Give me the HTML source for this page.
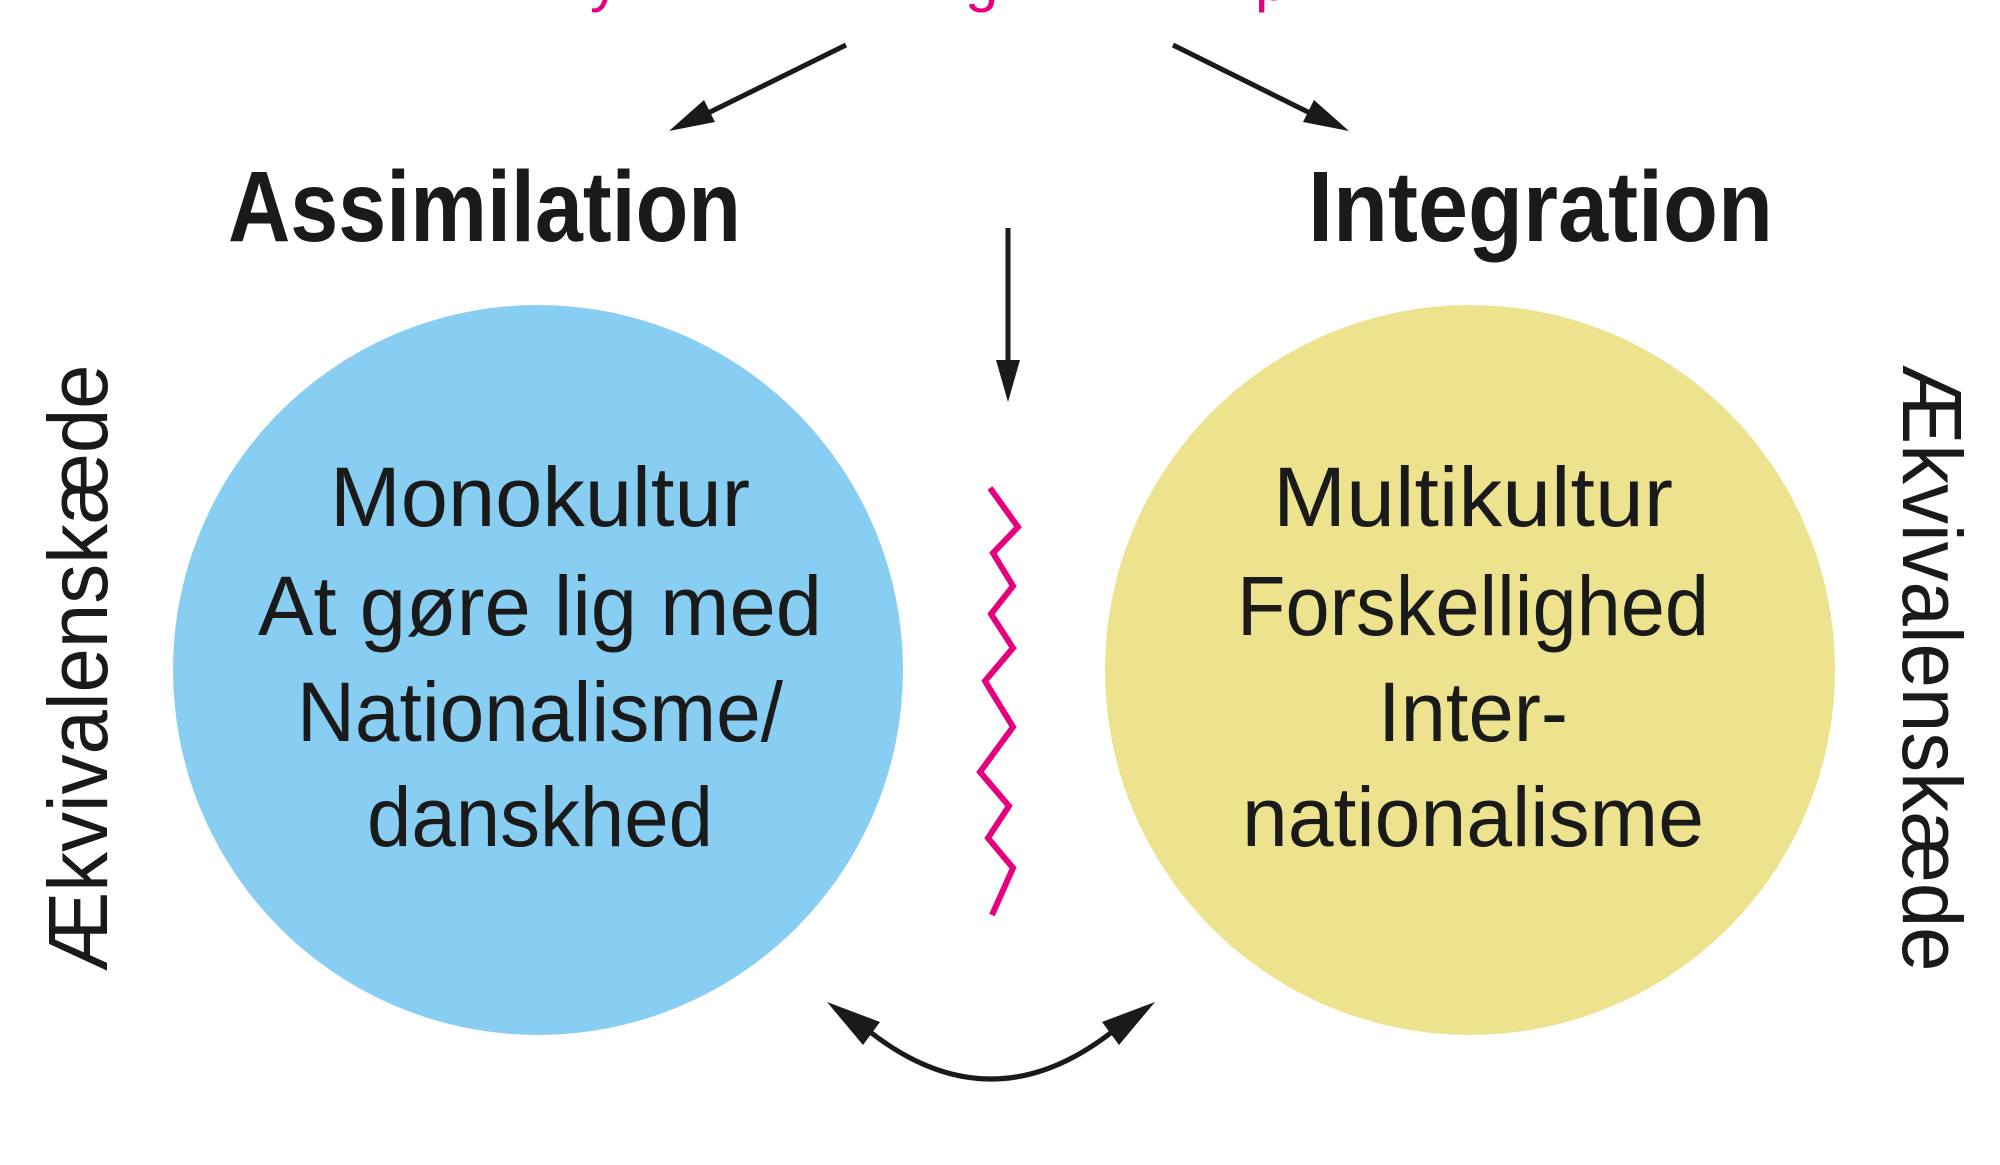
<!DOCTYPE html>
<html><head><meta charset="utf-8"><style>html,body{margin:0;padding:0;background:#fff;}svg{display:block}</style></head>
<body>
<svg width="2000" height="1165" viewBox="0 0 2000 1165" xmlns="http://www.w3.org/2000/svg">
<g font-family="Liberation Sans Narrow, Liberation Sans, sans-serif" fill="#e6007e" font-size="60">
<text x="590" y="0">y</text><text x="965" y="0">g</text><text x="1255" y="0">p</text>
</g>
<g stroke="#1a1a1a" stroke-width="5" fill="#1a1a1a">
<line x1="846" y1="45" x2="700" y2="117"/>
<polygon points="669,131 704,100 715,122" stroke="none"/>
<line x1="1173" y1="45" x2="1318" y2="117"/>
<polygon points="1349,131 1314,100 1303,122" stroke="none"/>
<line x1="1008" y1="228" x2="1008" y2="370"/>
<polygon points="1008,402 996,360 1020,360" stroke="none"/>
<path d="M850,1015 Q991,1143 1132,1015" fill="none"/>
<polygon points="827,1002 880,1022 863,1045" stroke="none"/>
<polygon points="1155,1002 1102,1022 1119,1045" stroke="none"/>
</g>
<g font-family="Liberation Sans, sans-serif" font-weight="bold" fill="#1a1a1a" font-size="100">
<text x="228" y="241" textLength="513" lengthAdjust="spacingAndGlyphs">Assimilation</text>
<text x="1308" y="241" textLength="465" lengthAdjust="spacingAndGlyphs">Integration</text>
</g>
<circle cx="538" cy="670" r="365" fill="#87cef2"/>
<circle cx="1470" cy="670" r="365" fill="#ede38e"/>
<polyline points="990,488 1018,527 993,553 1013,586 991,614 1013,648 985,681 1013,727 980,772 1009,806 988,838 1013,868 992,915" fill="none" stroke="#e6007e" stroke-width="6" stroke-linejoin="miter"/>
<g font-family="Liberation Sans Narrow, Liberation Sans, sans-serif" fill="#1a1a1a" font-size="84" text-anchor="middle">
<text x="540" y="526" textLength="420" lengthAdjust="spacingAndGlyphs">Monokultur</text>
<text x="540" y="635" textLength="564" lengthAdjust="spacingAndGlyphs">At gøre lig med</text>
<text x="540" y="741" textLength="486" lengthAdjust="spacingAndGlyphs">Nationalisme/</text>
<text x="540" y="846" textLength="346" lengthAdjust="spacingAndGlyphs">danskhed</text>
<text x="1473" y="526" textLength="400" lengthAdjust="spacingAndGlyphs">Multikultur</text>
<text x="1473" y="635" textLength="472" lengthAdjust="spacingAndGlyphs">Forskellighed</text>
<text x="1473" y="741" textLength="190" lengthAdjust="spacingAndGlyphs">Inter-</text>
<text x="1473" y="846" textLength="462" lengthAdjust="spacingAndGlyphs">nationalisme</text>
<text transform="translate(107,668) rotate(-90)" textLength="607" lengthAdjust="spacingAndGlyphs">Ækvivalenskæde</text>
<text transform="translate(1903,668) rotate(90)" textLength="607" lengthAdjust="spacingAndGlyphs">Ækvivalenskæde</text>
</g>
</svg>
</body></html>
